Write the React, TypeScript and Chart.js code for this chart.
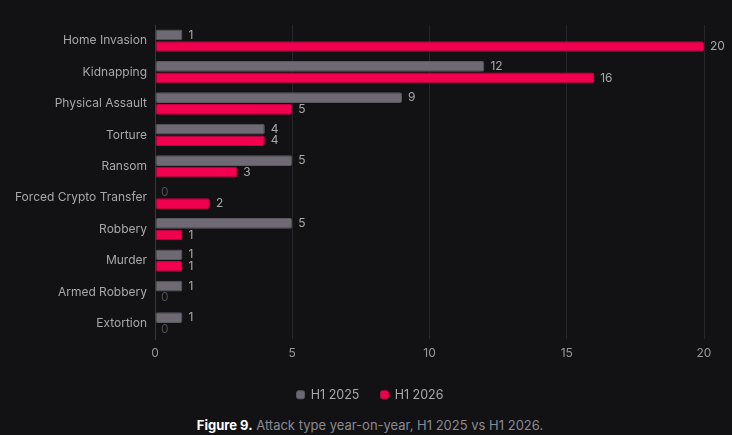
import { useEffect, useRef } from 'react';
import { Chart, registerables, Plugin } from 'chart.js';

Chart.register(...registerables);

const categories = [
  'Home Invasion',
  'Kidnapping',
  'Physical Assault',
  'Torture',
  'Ransom',
  'Forced Crypto Transfer',
  'Robbery',
  'Murder',
  'Armed Robbery',
  'Extortion',
];
const h1_2025 = [1, 12, 9, 4, 5, 0, 5, 1, 1, 1];
const h1_2026 = [20, 16, 5, 4, 3, 2, 1, 1, 0, 0];
const xTicks = [0, 5, 10, 15, 20];

const BG = '#121215';
const GREY = '#6e6a73';
const PINK = '#f0004f';

const valueLabels: Plugin<'bar'> = {
  id: 'valueLabels',
  afterDatasetsDraw(chart) {
    const { ctx } = chart;
    ctx.save();
    ctx.font = '12px Inter';
    ctx.textAlign = 'left';
    ctx.textBaseline = 'middle';
    chart.data.datasets.forEach((ds, di) => {
      const meta = chart.getDatasetMeta(di);
      meta.data.forEach((el, i) => {
        const v = ds.data[i] as number;
        ctx.fillStyle = v === 0 ? '#4e4e53' : '#a8a8ac';
        ctx.fillText(String(v), el.x + 6, el.y);
      });
    });
    ctx.restore();
  },
};

// the legend sits centred on the whole figure, not on the padded plot box
const centreLegend: Plugin<'bar'> = {
  id: 'centreLegend',
  afterLayout(chart) {
    const lg = chart.legend;
    if (!lg) return;
    lg.left += 18;
    lg.right += 18;
  },
};

export default function App() {
  const canvasRef = useRef<HTMLCanvasElement>(null);
  const chartRef = useRef<Chart | null>(null);

  useEffect(() => {
    document.body.style.margin = '0';
    document.body.style.background = BG;
    if (!canvasRef.current) return;
    const ctx = canvasRef.current.getContext('2d');
    if (!ctx) return;

    if (chartRef.current) {
      chartRef.current.destroy();
    }

    chartRef.current = new Chart(ctx, {
      type: 'bar',
      data: {
        labels: categories,
        datasets: [
          {
            label: 'H1 2025',
            data: h1_2025,
            backgroundColor: GREY,
            borderColor: '#5c5860',
            borderWidth: 1,
            borderRadius: 2,
            borderSkipped: false,
            categoryPercentage: 0.74,
            barPercentage: 0.92,
          },
          {
            label: 'H1 2026',
            data: h1_2026,
            backgroundColor: PINK,
            borderColor: '#c8003f',
            borderWidth: 1,
            borderRadius: 2,
            borderSkipped: false,
            categoryPercentage: 0.74,
            barPercentage: 0.92,
          },
        ],
      },
      options: {
        indexAxis: 'y',
        responsive: false,
        animation: false,
        layout: { padding: { top: 25, right: 28, left: 0, bottom: 6 } },
        plugins: {
          legend: {
            position: 'bottom',
            labels: {
              color: '#a8a8ac',
              font: { size: 12.5, family: 'Inter' },
              boxWidth: 8,
              boxHeight: 8,
              useBorderRadius: true,
              borderRadius: 2,
              padding: 21,
            },
          },
          tooltip: { enabled: false },
        },
        scales: {
          x: {
            min: 0,
            max: 20,
            afterBuildTicks: (scale) => {
              scale.ticks = xTicks.map((v) => ({ value: v }));
            },
            grid: { color: '#26262a', drawTicks: false },
            border: { display: false },
            ticks: {
              color: '#98989c',
              font: { size: 12, family: 'Inter' },
              padding: 7,
            },
          },
          y: {
            grid: { display: false, drawTicks: false },
            border: { display: true, color: '#38383c' },
            afterFit: (scale) => {
              scale.width = 155;
            },
            ticks: {
              color: '#a8a8ac',
              font: { size: 12, family: 'Inter' },
              padding: 8,
            },
          },
        },
      },
      plugins: [valueLabels, centreLegend],
    });

    return () => {
      if (chartRef.current) {
        chartRef.current.destroy();
        chartRef.current = null;
      }
    };
  }, []);

  return (
    <div style={{ width: 732, height: 435, background: BG, fontFamily: 'Inter' }}>
      <canvas ref={canvasRef} width={732} height={417} />
      <div
        style={{
          textAlign: 'center',
          fontSize: 13,
          color: '#8a8a90',
          marginTop: 0,
          paddingLeft: 8,
        }}
      >
        <span style={{ color: '#ffffff', fontWeight: 700 }}>Figure 9.</span> Attack type
        year-on-year, H1 2025 vs H1 2026.
      </div>
    </div>
  );
}
